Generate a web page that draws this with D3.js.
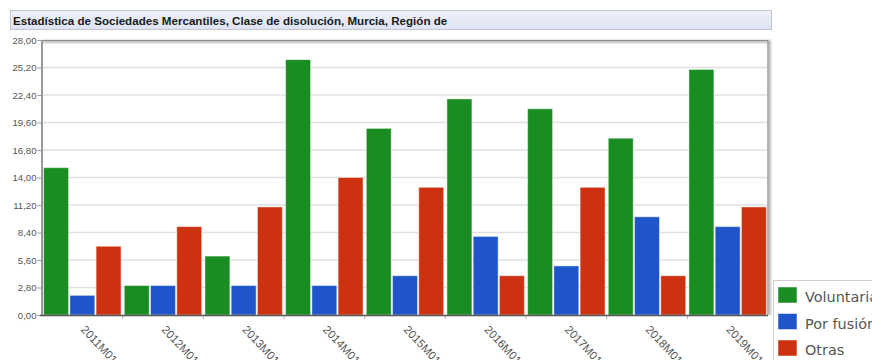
<!DOCTYPE html>
<html>
<head>
<meta charset="utf-8">
<script src="https://cdn.jsdelivr.net/npm/d3@7/dist/d3.min.js"></script>
<style>
  html, body { margin: 0; padding: 0; background: #fff; overflow: hidden; }
  svg { display: block; }
</style>
</head>
<body>
<svg id="chart" width="872" height="360"></svg>
<script>
// Disoluciones de sociedades mercantiles por clase, Región de Murcia (enero de cada año)
const titleText = "Estadística de Sociedades Mercantiles, Clase de disolución, Murcia, Región de";
const periods = ["2011M01", "2012M01", "2013M01", "2014M01", "2015M01", "2016M01", "2017M01", "2018M01", "2019M01"];
const seriesNames = ["Voluntarias", "Por fusión", "Otras"];
const voluntarias = [15, 3, 6, 26, 19, 22, 21, 18, 25];
const porFusion = [2, 3, 3, 3, 4, 8, 5, 10, 9];
const otras = [7, 9, 11, 14, 13, 4, 13, 4, 11];
const yTicks = [0, 2.8, 5.6, 8.4, 11.2, 14, 16.8, 19.6, 22.4, 25.2, 28];
const colors = ["#198c22", "#1f55c8", "#cc3210"];

const seriesValues = [voluntarias, porFusion, otras];
const rows = periods.map((p, i) => ({ period: p, values: seriesValues.map(s => s[i]) }));

const svg = d3.select("#chart");
const plot = { left: 42, right: 768, top: 40, bottom: 315 };

const defs = svg.append("defs");
const grad = defs.append("linearGradient").attr("id", "titleGrad")
  .attr("x1", 0).attr("y1", 0).attr("x2", 0).attr("y2", 1);
grad.append("stop").attr("offset", "0%").attr("stop-color", "#eef1f8");
grad.append("stop").attr("offset", "100%").attr("stop-color", "#dde3f3");
const blur = defs.append("filter").attr("id", "shadow")
  .attr("x", "-10%").attr("y", "-10%").attr("width", "130%").attr("height", "130%");
blur.append("feGaussianBlur").attr("stdDeviation", 0.8);

// Title bar
svg.append("rect")
  .attr("x", 10.5).attr("y", 10.5).attr("width", 761).attr("height", 19)
  .attr("fill", "url(#titleGrad)").attr("stroke", "#c4c6cc").attr("stroke-width", 1);
svg.append("text")
  .attr("x", 13).attr("y", 24.5)
  .attr("font-family", "Liberation Sans, Arial, sans-serif")
  .attr("font-size", 11.6).attr("font-weight", "bold").attr("fill", "#1a1a1a")
  .text(titleText);

// Scales
const y = d3.scaleLinear().domain([0, 28]).range([plot.bottom, plot.top]);
const x0 = d3.scaleBand().domain(periods).range([plot.left, plot.right])
  .paddingInner(0.04).paddingOuter(0.02);
const x1 = d3.scaleBand().domain(d3.range(seriesNames.length)).range([0, x0.bandwidth()])
  .paddingInner(0.05);

// Frame shadow (top and right edges)
svg.append("path")
  .attr("d", `M${plot.left},${plot.top + 1.5} H${plot.right + 1.5} V${plot.bottom}`)
  .attr("fill", "none").attr("stroke", "#bbb").attr("stroke-width", 3)
  .attr("filter", "url(#shadow)");

// Gridlines
svg.append("g").selectAll("line")
  .data(yTicks.filter(t => t > 0 && t < 28))
  .join("line")
  .attr("x1", plot.left).attr("x2", plot.right)
  .attr("y1", d => y(d)).attr("y2", d => y(d))
  .attr("stroke", "#e0e0e0").attr("stroke-width", 1.5);

// Frame top/right
svg.append("path")
  .attr("d", `M${plot.left},${plot.top + 0.5} H${plot.right} V${plot.bottom}`)
  .attr("fill", "none").attr("stroke", "#8a8a8a").attr("stroke-width", 1);

// Bars
const groups = svg.append("g").selectAll("g")
  .data(rows).join("g")
  .attr("transform", d => `translate(${x0(d.period)},0)`);
groups.selectAll("rect")
  .data(d => d.values.map((v, k) => ({ v, k })))
  .join("rect")
  .attr("x", d => x1(d.k))
  .attr("y", d => y(d.v))
  .attr("width", x1.bandwidth())
  .attr("height", d => y(0) - y(d.v))
  .attr("fill", d => colors[d.k])
  .attr("stroke", "rgba(255,255,255,0.45)").attr("stroke-width", 1);

// Y axis
const fmt = v => v.toFixed(2).replace(".", ",");
const yAxis = svg.append("g")
  .attr("transform", `translate(${plot.left - 0.5},0)`)
  .call(d3.axisLeft(y).tickValues(yTicks).tickFormat(fmt).tickSize(4).tickSizeOuter(0));
yAxis.select(".domain").attr("stroke", "#9a9a9a").attr("stroke-width", 2);
yAxis.selectAll(".tick line").attr("stroke", "#999");
yAxis.selectAll(".tick text")
  .attr("font-family", "Liberation Sans, Arial, sans-serif")
  .attr("font-size", 9.6).attr("fill", "#555").attr("x", -5);

// X axis
const bounds = periods.map(p => x0(p) - x0.step() * x0.paddingInner() / 2).slice(1);
const xAxis = svg.append("g").attr("transform", `translate(0,${plot.bottom})`);
xAxis.append("line")
  .attr("x1", plot.left - 2).attr("x2", plot.right)
  .attr("y1", 0.5).attr("y2", 0.5)
  .attr("stroke", "#555").attr("stroke-width", 1.5);
xAxis.selectAll("line.tk").data(bounds).join("line").attr("class", "tk")
  .attr("x1", d => d).attr("x2", d => d).attr("y1", 1).attr("y2", 4)
  .attr("stroke", "#aaa");
xAxis.selectAll("text").data(periods).join("text")
  .attr("transform", d => `translate(${x0(d) + x0.bandwidth() / 2 - 2},${15}) rotate(47)`)
  .attr("font-family", "Liberation Sans, Arial, sans-serif")
  .attr("font-size", 11.5).attr("fill", "#555")
  .text(d => d);

// Legend
const legend = svg.append("g").attr("transform", "translate(773,280)");
legend.append("rect")
  .attr("x", 2).attr("y", 2).attr("width", 110).attr("height", 90)
  .attr("fill", "#ddd").attr("filter", "url(#shadow)");
legend.append("rect")
  .attr("x", 0.5).attr("y", 0.5).attr("width", 110).attr("height", 90)
  .attr("fill", "#fff").attr("stroke", "#d0d0d0");
const items = legend.selectAll("g.item").data(seriesNames).join("g").attr("class", "item")
  .attr("transform", (d, i) => `translate(5,${7 + i * 26.5})`);
items.append("rect")
  .attr("width", 19).attr("height", 16)
  .attr("fill", (d, i) => colors[i]).attr("stroke", "rgba(255,255,255,0.5)");
items.append("text")
  .attr("x", 27).attr("y", 15)
  .attr("font-family", "DejaVu Sans, Verdana, sans-serif")
  .attr("font-size", 14.4).attr("fill", "#555")
  .text(d => d);
</script>
</body>
</html>
